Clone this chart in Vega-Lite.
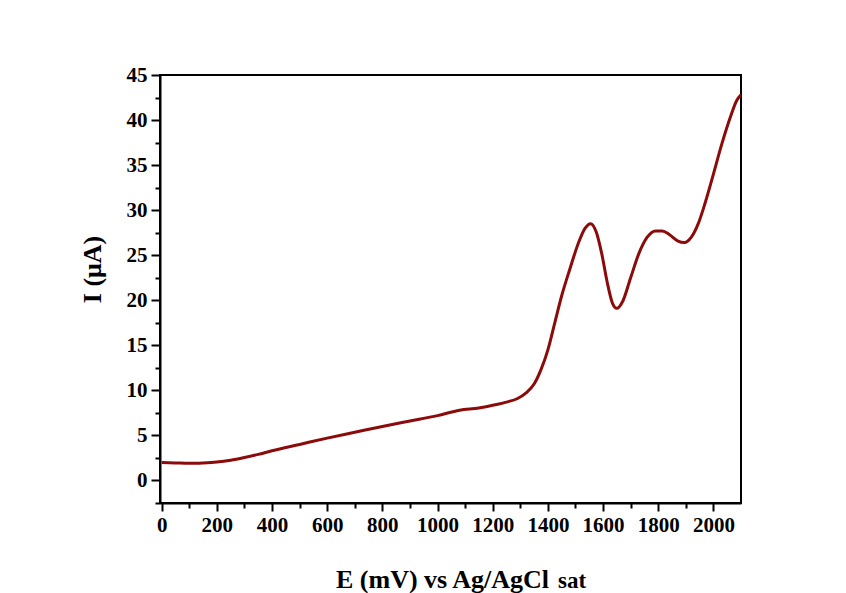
{
  "$schema": "https://vega.github.io/schema/vega-lite/v6.json",
  "width": 581,
  "height": 428,
  "autosize": {"type": "none"},
  "padding": {"left": 160, "top": 75, "right": 105, "bottom": 90},
  "background": "white",
  "config": {
    "view": {"stroke": "black", "strokeWidth": 2},
    "font": "Liberation Serif"
  },
  "datasets": {
    "curve": [
      {"E": 0, "I": 2.0},
      {"E": 50, "I": 1.95},
      {"E": 100, "I": 1.9},
      {"E": 150, "I": 1.95},
      {"E": 200, "I": 2.05},
      {"E": 250, "I": 2.25},
      {"E": 300, "I": 2.55},
      {"E": 350, "I": 2.9},
      {"E": 400, "I": 3.3},
      {"E": 500, "I": 4.0},
      {"E": 600, "I": 4.7},
      {"E": 700, "I": 5.35},
      {"E": 800, "I": 6.0},
      {"E": 900, "I": 6.6},
      {"E": 1000, "I": 7.2},
      {"E": 1080, "I": 7.8},
      {"E": 1150, "I": 8.05},
      {"E": 1200, "I": 8.35},
      {"E": 1250, "I": 8.7},
      {"E": 1290, "I": 9.1},
      {"E": 1320, "I": 9.7},
      {"E": 1350, "I": 10.7},
      {"E": 1375, "I": 12.3},
      {"E": 1400, "I": 14.5},
      {"E": 1425, "I": 17.5},
      {"E": 1450, "I": 20.5},
      {"E": 1480, "I": 23.5},
      {"E": 1510, "I": 26.3},
      {"E": 1535, "I": 28.0},
      {"E": 1555, "I": 28.5},
      {"E": 1575, "I": 27.6},
      {"E": 1595, "I": 25.2},
      {"E": 1615, "I": 22.0},
      {"E": 1635, "I": 19.6},
      {"E": 1650, "I": 19.1},
      {"E": 1670, "I": 19.8},
      {"E": 1700, "I": 22.5},
      {"E": 1730, "I": 25.2},
      {"E": 1760, "I": 27.0},
      {"E": 1790, "I": 27.7},
      {"E": 1815, "I": 27.7},
      {"E": 1840, "I": 27.3},
      {"E": 1870, "I": 26.6},
      {"E": 1895, "I": 26.4},
      {"E": 1920, "I": 27.0},
      {"E": 1945, "I": 28.5},
      {"E": 1970, "I": 30.8},
      {"E": 2000, "I": 34.0},
      {"E": 2030, "I": 37.3},
      {"E": 2060, "I": 40.2},
      {"E": 2085, "I": 42.2},
      {"E": 2100, "I": 42.8}
    ],
    "sub": [{"E": 1437, "I": -11.9, "t": "sat"}]
  },
  "resolve": {"axis": {"x": "independent", "y": "independent"}},
  "layer": [
    {
      "data": {"name": "curve"},
      "mark": {"type": "line", "color": "#8B0A0A", "strokeWidth": 3, "clip": true, "interpolate": "monotone"},
      "encoding": {
        "x": {
          "field": "E", "type": "quantitative",
          "scale": {"domain": [-6, 2100], "nice": false, "zero": false},
          "axis": {
            "values": [0, 200, 400, 600, 800, 1000, 1200, 1400, 1600, 1800, 2000],
            "format": "d",
            "grid": false, "domainColor": "black", "domainWidth": 2,
            "tickColor": "black", "tickWidth": 2, "tickSize": 8,
            "labelFont": "Liberation Serif", "labelFontWeight": "bold", "labelFontSize": 21,
            "labelColor": "black", "labelPadding": 3, "labelFlush": false,
            "title": "E (mV) vs Ag/AgCl", "titleFont": "Liberation Serif",
            "titleFontWeight": "bold", "titleFontSize": 26, "titleColor": "black",
            "titleX": 282, "titleY": 84, "titleBaseline": "alphabetic", "titleAlign": "center"
          }
        },
        "y": {
          "field": "I", "type": "quantitative",
          "scale": {"domain": [-2.5, 45], "nice": false, "zero": false},
          "axis": {
            "values": [0, 5, 10, 15, 20, 25, 30, 35, 40, 45],
            "format": "d",
            "grid": false, "domainColor": "black", "domainWidth": 2,
            "tickColor": "black", "tickWidth": 2, "tickSize": 9,
            "labelFont": "Liberation Serif", "labelFontWeight": "bold", "labelFontSize": 21,
            "labelColor": "black", "labelPadding": 4, "labelFlush": false,
            "title": "I (μA)", "titleFont": "Liberation Serif",
            "titleFontWeight": "bold", "titleFontSize": 26, "titleColor": "black",
            "titleAngle": -90, "titleX": -60, "titleY": 194,
            "titleBaseline": "alphabetic", "titleAlign": "center"
          }
        }
      }
    },
    {
      "data": {"name": "curve"},
      "mark": {"type": "line", "strokeOpacity": 0},
      "encoding": {
        "x": {
          "field": "E", "type": "quantitative",
          "axis": {
            "orient": "bottom",
            "values": [100, 300, 500, 700, 900, 1100, 1300, 1500, 1700, 1900],
            "grid": false, "domain": false, "labels": false, "title": null,
            "tickColor": "black", "tickWidth": 2, "tickSize": 5
          }
        },
        "y": {
          "field": "I", "type": "quantitative",
          "axis": {
            "orient": "left",
            "values": [-2.5, 2.5, 7.5, 12.5, 17.5, 22.5, 27.5, 32.5, 37.5, 42.5],
            "grid": false, "domain": false, "labels": false, "title": null,
            "tickColor": "black", "tickWidth": 2, "tickSize": 5
          }
        }
      }
    },
    {
      "data": {"name": "sub"},
      "mark": {"type": "text", "font": "Liberation Serif", "fontWeight": "bold", "fontSize": 23, "align": "left", "baseline": "alphabetic", "color": "black"},
      "encoding": {
        "x": {"field": "E", "type": "quantitative", "axis": null},
        "y": {"field": "I", "type": "quantitative", "axis": null},
        "text": {"field": "t"}
      }
    }
  ]
}
